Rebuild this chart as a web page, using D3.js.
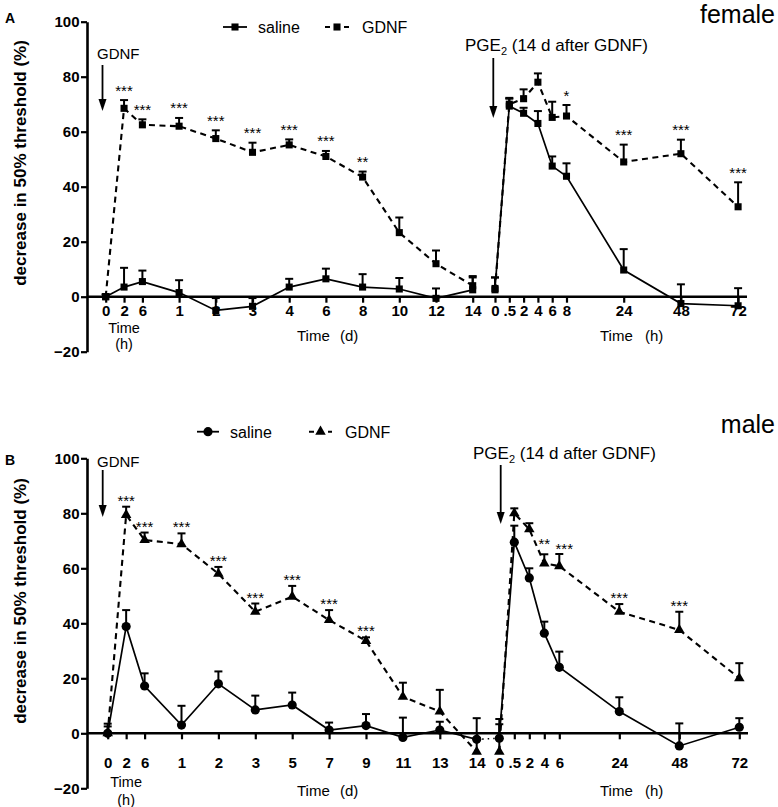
<!DOCTYPE html>
<html><head><meta charset="utf-8">
<script src="https://cdn.jsdelivr.net/npm/d3@7"></script>
<style>
body{margin:0;background:#fff}
svg{display:block}
text{font-family:"Liberation Sans",Arial,Helvetica,sans-serif;fill:#000}
</style>
</head><body>
<svg id="chart" width="778" height="807"></svg>
<script>
// ---------- DATA ----------
const yTicks = [100, 80, 60, 40, 20, 0, -20];

// Panel A (female)
const aLeftLabels = ["0","2","6","1","2","3","4","6","8","10","12","14"];
const aLeftSlots  = [0, 0.5, 1, 2, 3, 4, 5, 6, 7, 8, 9, 10];
const aLeftSaline    = [0, 3.5, 5.5, 1.5, -5, -3.5, 3.5, 6.5, 3.5, 2.8, -0.6, 2.5];
const aLeftSalineErr = [0.8, 7, 4, 4.5, 4.5, 3, 3, 3.7, 4.7, 4, 3.6, 5];
const aLeftGdnf      = [0, 68.5, 62.5, 62, 57.5, 52.5, 55.2, 51, 43.5, 23.3, 12, 4];
const aLeftGdnfErr   = [0.8, 3, 2, 3, 3, 3.5, 2, 2, 2, 5.5, 4.8, 3];
const aLeftStars     = ["","***","***","***","***","***","***","***","**","","",""];

const aRightLabels = ["0",".5","2","4","6","8","24","48","72"];
const aRightSlots  = [0, 1, 2, 3, 4, 5, 9, 13, 17];
const aRightSaline    = [3, 69.3, 66.7, 63, 47.5, 43.8, 9.7, -2.5, -3.3];
const aRightSalineErr = [4, 3, 2, 4.5, 3.5, 4.7, 7.6, 7, 6.4];
const aRightGdnf      = [2.5, 70, 72, 78, 65.2, 65.7, 49, 52, 32.7];
const aRightGdnfErr   = [4.5, 2, 3.4, 3.2, 5.7, 4, 6.3, 5.1, 8.9];
const aRightStars     = ["","","","","","*","***","***","***"];

// Panel B (male)
const bLeftLabels = ["0","2","6","1","2","3","5","7","9","11","13","14"];
const bLeftSlots  = [0, 0.5, 1, 2, 3, 4, 5, 6, 7, 8, 9, 10];
const bLeftSaline    = [0, 38.8, 17.2, 3, 18, 8.5, 10.3, 1.2, 2.8, -1.5, 1.2, -2.2];
const bLeftSalineErr = [3.5, 6, 4.6, 7, 4.5, 5.2, 4.5, 2.7, 4.2, 7.2, 3, 7.7];
const bLeftGdnf      = [0, 79.4, 70.3, 68.8, 58, 44.2, 49.7, 41.2, 33.6, 13.3, 7.9, -6.7];
const bLeftGdnfErr   = [2.5, 3, 2.7, 3.9, 2.5, 3, 3.9, 3.6, 1.3, 5.1, 7.9, 5];
const bLeftStars     = ["","***","***","***","***","***","***","***","***","","",""];

const bRightLabels = ["0",".5","2","4","6","24","48","72"];
const bRightSlots  = [0, 1, 2, 3, 4, 8, 12, 16];
const bRightSaline    = [-1.8, 69.5, 56.5, 36.4, 24, 7.9, -4.6, 2.2];
const bRightSalineErr = [7, 6, 3.5, 4.2, 5.7, 5.2, 8.2, 3.3];
const bRightGdnf      = [-6.7, 80, 74.2, 61.8, 60.8, 44.2, 37.6, 20];
const bRightGdnfErr   = [10, 1.8, 2.2, 3.3, 4.4, 2.8, 6.6, 5.5];
const bRightStars     = ["","","","**","***","***","***",""];

const seriesNames = ["saline", "GDNF"];
const yTitle = "decrease in 50% threshold (%)";

// ---------- DRAW ----------
const svg = d3.select("#chart");

function marker(type) {
  if (type === "square") return d3.symbol().type(d3.symbolSquare).size(50)();
  if (type === "circle") return d3.symbol().type(d3.symbolCircle).size(66)();
  return d3.symbol().type(d3.symbolTriangle).size(48)();
}

function drawSeries(g, x, y, slots, means, errs, dashed, mtype) {
  const line = d3.line().x((d, i) => x(slots[i])).y(d => y(d));
  g.append("path").attr("d", line(means)).attr("fill", "none").attr("stroke", "#000")
    .attr("stroke-width", dashed ? 2.1 : 1.7)
    .attr("stroke-dasharray", dashed ? "6,4.5" : null);
  means.forEach((m, i) => {
    const cx = x(slots[i]);
    const top = y(m + errs[i]);
    g.append("line").attr("x1", cx).attr("x2", cx).attr("y1", y(m)).attr("y2", top)
      .attr("stroke", "#000").attr("stroke-width", 2);
    g.append("line").attr("x1", cx - 4).attr("x2", cx + 4).attr("y1", top).attr("y2", top)
      .attr("stroke", "#000").attr("stroke-width", 2);
    g.append("path").attr("d", marker(mtype)).attr("transform", `translate(${cx},${y(m)})`)
      .attr("fill", "#000");
  });
}

function drawStars(g, x, y, slots, means, errs, stars, gap, nudge) {
  stars.forEach((s, i) => {
    if (!s) return;
    const n = (nudge && nudge[i]) || [0, 0];
    g.append("text").attr("x", x(slots[i]) + n[0]).attr("y", y(means[i] + errs[i]) - gap + n[1])
      .attr("text-anchor", "middle").attr("font-size", 15).text(s);
  });
}

function drawPanel(p) {
  const g = svg.append("g");
  const y = d3.scaleLinear().domain([-20, 100]).range([p.yBottom, p.yTop]);
  const xL = d3.scaleLinear().domain([0, 10]).range([p.xL0, p.xL1]);
  const xR = d3.scaleLinear().domain([0, p.rSlots[p.rSlots.length - 1]]).range([p.xR0, p.xR1]);

  // y axis
  const ya = g.append("g").attr("transform", `translate(${p.axisX},0)`)
    .call(d3.axisLeft(y).tickValues(yTicks).tickSize(6).tickSizeOuter(0).tickPadding(1.5));
  ya.select(".domain").attr("stroke-width", 2.6);
  ya.selectAll(".tick line").attr("stroke-width", 2.2);
  ya.selectAll(".tick text").attr("font-size", 15).attr("font-weight", "bold")
    .attr("font-family", '"Liberation Sans",Arial,sans-serif').attr("fill", "#000");

  // zero line
  g.append("line").attr("x1", p.axisX).attr("x2", p.zeroEnd).attr("y1", y(0)).attr("y2", y(0))
    .attr("stroke", "#000").attr("stroke-width", 2.6);

  // x ticks
  [[xL, p.lSlots, p.lLabels], [xR, p.rSlots, p.rLabels]].forEach(([sc, slots, labels]) => {
    const ax = g.append("g").attr("transform", `translate(0,${y(0)})`)
      .call(d3.axisBottom(sc).tickValues(slots).tickSize(6).tickPadding(p.xPad)
        .tickFormat(d => labels[slots.indexOf(d)]));
    ax.select(".domain").remove();
    ax.selectAll(".tick line").attr("stroke-width", 2.2);
    ax.selectAll(".tick text").attr("font-size", 15).attr("font-weight", "bold")
      .attr("font-family", '"Liberation Sans",Arial,sans-serif').attr("fill", "#000");
  });

  // axis titles
  g.append("text").attr("transform", `translate(${p.titleX},${p.titleY}) rotate(-90)`)
    .attr("text-anchor", "middle").attr("font-size", 17).attr("font-weight", "bold").text(yTitle);
  const t0 = xL(0.5);
  g.append("text").attr("x", t0).attr("y", p.timeY1).attr("text-anchor", "middle").attr("font-size", 14.5).text("Time");
  g.append("text").attr("x", t0).attr("y", p.timeY2).attr("text-anchor", "middle").attr("font-size", 14.5).text("(h)");
  g.append("text").attr("x", 297).attr("y", p.timeY3).attr("font-size", 15).text("Time");
  g.append("text").attr("x", 340).attr("y", p.timeY3).attr("font-size", 15).text("(d)");
  g.append("text").attr("x", 600).attr("y", p.timeY3).attr("font-size", 15).text("Time");
  g.append("text").attr("x", 645).attr("y", p.timeY3).attr("font-size", 15).text("(h)");

  // data
  drawSeries(g, xL, y, p.lSlots, p.lGdnf, p.lGdnfErr, true, p.gMarker);
  drawSeries(g, xL, y, p.lSlots, p.lSal, p.lSalErr, false, p.sMarker);
  drawSeries(g, xR, y, p.rSlots, p.rGdnf, p.rGdnfErr, true, p.gMarker);
  drawSeries(g, xR, y, p.rSlots, p.rSal, p.rSalErr, false, p.sMarker);
  if (p.dotted) {
    g.append("line").attr("x1", xL(10)).attr("x2", xR(0))
      .attr("y1", y(p.lSal[p.lSal.length - 1])).attr("y2", y(p.rSal[0]))
      .attr("stroke", "#000").attr("stroke-width", 1.6).attr("stroke-dasharray", "1.5,4");
  }
  drawStars(g, xL, y, p.lSlots, p.lGdnf, p.lGdnfErr, p.lStars, p.starGap, null);
  drawStars(g, xR, y, p.rSlots, p.rGdnf, p.rGdnfErr, p.rStars, p.starGap, p.rStarNudge);

  // annotations
  const arrow = (ax, y1, y2) => {
    g.append("line").attr("x1", ax).attr("x2", ax).attr("y1", y1).attr("y2", y2 - 10)
      .attr("stroke", "#000").attr("stroke-width", 1.8);
    g.append("path").attr("d", `M${ax - 4},${y2 - 12} L${ax + 4},${y2 - 12} L${ax},${y2} Z`).attr("fill", "#000");
  };
  g.append("text").attr("x", p.gdnfTextX).attr("y", p.gdnfTextY).attr("font-size", 15).text("GDNF");
  arrow(xL(0) + p.gdnfArrowDx, p.gdnfArrowY1, p.gdnfArrowY2);
  const pt = g.append("text").attr("x", p.pgeTextX).attr("y", p.pgeTextY).attr("font-size", 17);
  pt.append("tspan").text("PGE");
  pt.append("tspan").attr("font-size", 11).attr("dy", 4).text("2");
  pt.append("tspan").attr("dy", -4).text(" (14 d after GDNF)");
  arrow(xR(0) + p.pgeArrowDx, p.pgeArrowY1, p.pgeArrowY2);

  // panel letter & sex
  g.append("text").attr("x", 5).attr("y", p.letterY).attr("font-size", 14).attr("font-weight", "bold").text(p.letter);
  g.append("text").attr("x", 775).attr("y", p.sexY).attr("text-anchor", "end").attr("font-size", 25).text(p.sex);

  // legend
  const ly = p.legendY;
  g.append("line").attr("x1", p.leg1[0]).attr("x2", p.leg1[1]).attr("y1", ly).attr("y2", ly)
    .attr("stroke", "#000").attr("stroke-width", 1.8);
  g.append("path").attr("d", marker(p.sMarker)).attr("transform", `translate(${(p.leg1[0] + p.leg1[1]) / 2},${ly})`);
  g.append("text").attr("x", p.leg1[1] + 11).attr("y", ly + 6).attr("font-size", 16).text(seriesNames[0]);
  g.append("line").attr("x1", p.leg2[0]).attr("x2", p.leg2[1]).attr("y1", ly).attr("y2", ly)
    .attr("stroke", "#000").attr("stroke-width", 2).attr("stroke-dasharray", "5,4.5");
  g.append("rect").attr("x", (p.leg2[0] + p.leg2[1]) / 2 - 5).attr("y", ly - 5).attr("width", 10).attr("height", 10).attr("fill", "#fff");
  g.append("path").attr("d", marker(p.gMarker)).attr("transform", `translate(${(p.leg2[0] + p.leg2[1]) / 2},${ly})`);
  g.append("text").attr("x", p.leg2[1] + 13).attr("y", ly + 6).attr("font-size", 16).text(seriesNames[1]);
}

drawPanel({
  letter: "A", letterY: 23, sex: "female", sexY: 23,
  yTop: 21.7, yBottom: 351.7, axisX: 87, zeroEnd: 747,
  xL0: 105.7, xL1: 472.7, xR0: 495, xR1: 738.1,
  lSlots: aLeftSlots, lLabels: aLeftLabels, rSlots: aRightSlots, rLabels: aRightLabels,
  lSal: aLeftSaline, lSalErr: aLeftSalineErr, lGdnf: aLeftGdnf, lGdnfErr: aLeftGdnfErr, lStars: aLeftStars,
  rSal: aRightSaline, rSalErr: aRightSalineErr, rGdnf: aRightGdnf, rGdnfErr: aRightGdnfErr, rStars: aRightStars,
  rStarNudge: null,
  sMarker: "square", gMarker: "square", dotted: false, starGap: 4.5,
  xPad: 3, titleX: 26, titleY: 163, timeY1: 333, timeY2: 349, timeY3: 341,
  gdnfTextX: 97, gdnfTextY: 59, gdnfArrowDx: -3.2, gdnfArrowY1: 65, gdnfArrowY2: 111,
  pgeTextX: 465, pgeTextY: 51, pgeArrowDx: -1.7, pgeArrowY1: 58, pgeArrowY2: 118,
  legendY: 27, leg1: [223, 247], leg2: [325, 349]
});

drawPanel({
  letter: "B", letterY: 465, sex: "male", sexY: 433,
  yTop: 458.3, yBottom: 788.3, axisX: 87, zeroEnd: 748,
  xL0: 107.7, xL1: 476.7, xR0: 499.3, xR1: 739.3,
  lSlots: bLeftSlots, lLabels: bLeftLabels, rSlots: bRightSlots, rLabels: bRightLabels,
  lSal: bLeftSaline, lSalErr: bLeftSalineErr, lGdnf: bLeftGdnf, lGdnfErr: bLeftGdnfErr, lStars: bLeftStars,
  rSal: bRightSaline, rSalErr: bRightSalineErr, rGdnf: bRightGdnf, rGdnfErr: bRightGdnfErr, rStars: bRightStars,
  rStarNudge: {3: [0, -4], 4: [5, 1]},
  sMarker: "circle", gMarker: "triangle", dotted: true, starGap: 1,
  xPad: 18, titleX: 26, titleY: 601, timeY1: 787, timeY2: 805, timeY3: 796,
  gdnfTextX: 97, gdnfTextY: 467, gdnfArrowDx: -5, gdnfArrowY1: 470, gdnfArrowY2: 517,
  pgeTextX: 473, pgeTextY: 459, pgeArrowDx: 1.4, pgeArrowY1: 465, pgeArrowY2: 524,
  legendY: 431.7, leg1: [197, 219], leg2: [309, 332]
});
</script>
</body></html>
